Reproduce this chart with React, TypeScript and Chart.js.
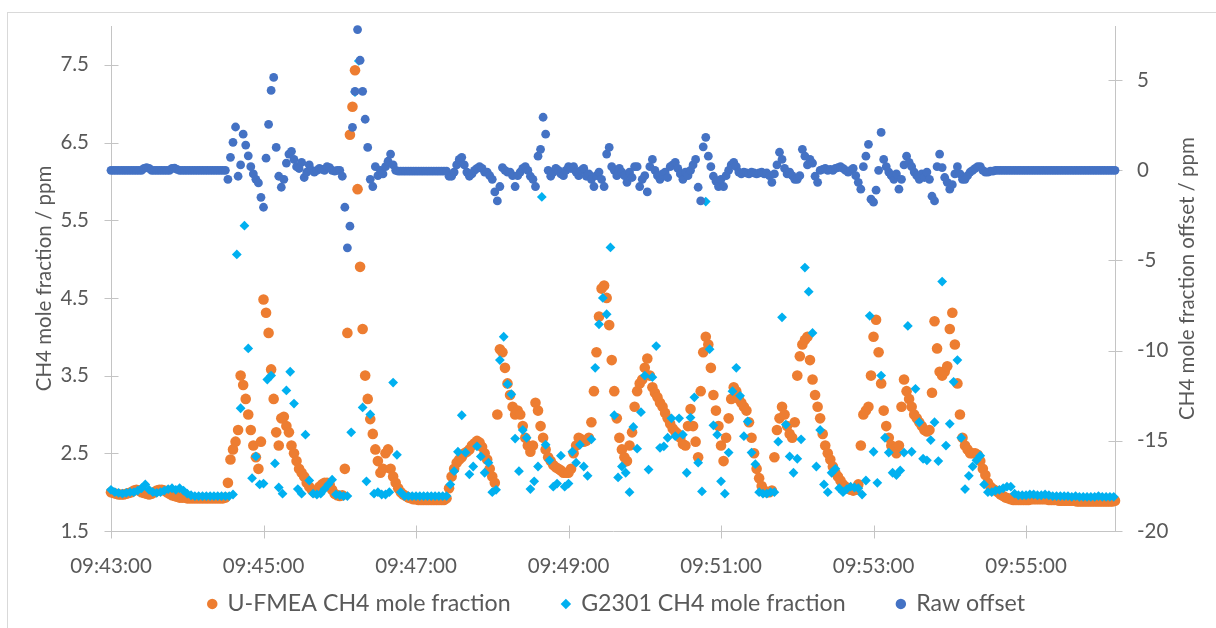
import React, { useEffect, useRef } from "react";
import { Chart, registerables } from "chart.js";

Chart.register(...registerables);

// ---------- data ----------
const startClock = [9, 43, 0];
const ufmeaStepSeconds = 2;
const g2301StepSeconds = 3;
const rawStepSeconds = 2;

const xTickSeconds = [0, 120, 240, 360, 480, 600, 720];
const leftTickValues = [1.5, 2.5, 3.5, 4.5, 5.5, 6.5, 7.5];
const rightTickValues = [-20, -15, -10, -5, 0, 5];

const seriesNames = ["U-FMEA CH4 mole fraction", "G2301 CH4 mole fraction", "Raw offset"];
const leftTitle = "CH4 mole fraction / ppm";
const rightTitle = "CH4 mole fraction offset / ppm";

// U-FMEA CH4 mole fraction (ppm), one value every 2 s from 09:43:00
const ufmeaValues = [
  2.0, 1.99, 1.98, 1.97, 1.97, 1.97, 1.98, 1.99, 2.0, 2.02, 2.03, 2.02, 2.0, 1.99, 1.98, 1.97, 1.98, 2.0, 2.02, 2.03, 2.03, 2.02, 2.0, 1.98, 1.96, 1.95, 1.94, 1.93, 1.93, 1.93,
  1.92, 1.92, 1.92, 1.92, 1.92, 1.92, 1.92, 1.92, 1.92, 1.92, 1.92, 1.92, 1.92, 1.92, 1.92, 1.93, 2.12, 2.42, 2.55, 2.65, 2.8, 3.5, 3.38, 3.2, 3.0, 2.8, 2.6, 2.45, 2.3, 2.65,
  4.48, 4.31, 4.05, 3.58, 3.2, 2.77, 2.6, 2.95, 2.97, 2.85, 2.77, 2.6, 2.5, 2.4, 2.3, 2.25, 2.2, 2.12, 2.07, 2.03, 2.0, 2.02, 2.07, 2.1, 2.12, 2.12, 2.1, 2.03, 1.98, 1.96,
  1.95, 1.96, 2.3, 4.05, 6.6, 6.96, 7.43, 5.9, 4.9, 4.1, 3.5, 3.2, 2.94, 2.75, 2.55, 2.4, 2.25, 2.3, 2.5, 2.55, 2.3, 2.2, 2.12, 2.05, 2.0, 1.97, 1.95, 1.93, 1.92, 1.91,
  1.91, 1.9, 1.9, 1.9, 1.9, 1.9, 1.9, 1.9, 1.9, 1.9, 1.9, 1.9, 1.92, 2.05, 2.2, 2.3, 2.38, 2.42, 2.45, 2.5, 2.52, 2.55, 2.6, 2.63, 2.66, 2.64, 2.58, 2.5, 2.42, 2.3,
  2.2, 2.12, 3.0, 3.84, 3.8, 3.6, 3.4, 3.25, 3.1, 3.0, 3.05, 3.0, 2.85, 2.7, 2.6, 2.52, 2.6, 3.15, 3.05, 2.85, 2.7, 2.55, 2.45, 2.4, 2.35, 2.32, 2.3, 2.28, 2.25, 2.25,
  2.25, 2.3, 2.5, 2.6, 2.7, 2.68, 2.65, 2.66, 2.7, 2.9, 3.3, 3.8, 4.26, 4.62, 4.66, 4.5, 4.15, 3.7, 3.3, 2.95, 2.7, 2.55, 2.45, 2.4, 2.6, 2.77, 3.1, 3.3, 3.4, 3.45,
  3.6, 3.72, 3.5, 3.35, 3.28, 3.22, 3.15, 3.1, 3.02, 2.95, 2.88, 2.82, 2.78, 2.75, 2.7, 2.62, 2.6, 2.85, 3.07, 2.85, 2.65, 2.45, 3.3, 3.8, 4.0, 3.9, 3.6, 3.25, 3.05, 2.85,
  2.6, 2.4, 2.7, 2.95, 3.2, 3.35, 3.3, 3.2, 3.15, 3.1, 3.05, 2.9, 2.7, 2.5, 2.3, 2.18, 2.08, 2.02, 2.0, 2.0, 2.02, 2.45, 2.8, 2.95, 3.1, 3.0, 2.85, 2.75, 2.7, 2.9,
  3.5, 3.75, 3.9, 3.96, 4.0, 3.7, 3.45, 3.25, 3.1, 2.95, 2.75, 2.6, 2.5, 2.42, 2.33, 2.25, 2.2, 2.15, 2.1, 2.07, 2.05, 2.03, 2.02, 2.03, 2.1, 2.6, 3.0, 3.05, 3.1, 3.5,
  4.0, 4.22, 3.8, 3.4, 3.05, 2.85, 2.7, 2.6, 2.55, 2.5, 2.6, 3.1, 3.45, 3.3, 3.2, 3.1, 3.0, 2.95, 2.9, 2.85, 2.8, 2.78, 2.8, 3.28, 4.2, 3.85, 3.55, 3.5, 3.55, 3.62,
  4.1, 4.31, 3.9, 3.4, 3.0, 2.7, 2.6, 2.55, 2.5, 2.5, 2.5, 2.48, 2.4, 2.3, 2.22, 2.12, 2.07, 2.04, 2.02, 2.0, 1.97, 1.95, 1.93, 1.92, 1.91, 1.9, 1.9, 1.9, 1.9, 1.9,
  1.9, 1.9, 1.91, 1.91, 1.91, 1.91, 1.91, 1.91, 1.91, 1.9, 1.9, 1.9, 1.9, 1.89, 1.89, 1.89, 1.89, 1.89, 1.89, 1.89, 1.88, 1.88, 1.88, 1.88, 1.88, 1.88, 1.88, 1.88, 1.88, 1.88,
  1.88, 1.88, 1.88, 1.88, 1.88, 1.89,
];

// G2301 CH4 mole fraction (ppm), one value every 3 s from 09:43:00
const g2301Values = [
  2.03, 2.0, 1.99, 1.98, 1.99, 2.0, 2.0, 2.02, 2.05, 2.1, 2.03, 2.0, 1.99, 2.0, 2.02, 2.04, 2.05, 2.03, 2.05, 2.02, 1.98, 1.96,
  1.95, 1.95, 1.95, 1.95, 1.95, 1.95, 1.95, 1.95, 1.95, 1.95,
  1.97, 5.06, 3.08, 5.43, 3.85, 2.18, 2.46, 2.1, 2.11, 3.45, 3.5, 2.37, 2.06, 1.98, 3.31, 3.55, 3.14, 2.04, 1.98, 2.74, 2.15, 1.98, 1.97, 1.98, 2.04,
  2.1, 2.16, 1.97, 1.96, 1.95, 1.95, 2.77, 7.15, 7.55, 3.09, 2.14, 3.0, 1.98, 2.0, 1.97, 1.97, 2.0, 3.41, 2.48, 2.0,
  1.95, 1.95, 1.95, 1.95, 1.95, 1.95, 1.95, 1.95, 1.95, 1.95, 1.95, 1.95,
  2.1, 2.27, 2.52, 2.99, 2.51, 2.23, 2.33, 2.59, 2.46, 2.25, 2.38, 2.0, 2.03, 3.7, 4.0, 3.39, 3.26, 2.69, 2.27, 2.8,
  2.7, 2.04, 2.14, 2.33, 5.8, 2.61, 2.41, 2.07, 2.11, 2.47, 2.07, 2.11, 2.52, 2.38, 2.61, 2.33, 2.21, 2.68, 3.6,
  4.16, 4.5, 4.29, 5.15, 2.99, 2.19, 2.33, 2.25, 2.0, 2.84, 2.56, 3.03, 3.5, 2.29, 3.48, 3.88, 2.57, 2.59, 2.7, 2.95,
  2.72, 2.95, 2.74, 2.25, 2.96, 3.22, 2.38, 2.01, 5.74, 3.84, 2.86, 2.74, 2.14, 1.98, 2.51, 3.3, 3.6, 3.24, 2.72, 2.91,
  2.51, 2.36, 2.0, 1.98, 1.98, 2.0, 2.0, 2.65, 4.25, 2.87, 2.46, 2.25, 2.43,
  2.68, 4.89, 4.58, 4.05, 2.33, 2.8, 2.1, 2.0, 2.25, 2.3, 2.05, 2.0, 2.04, 2.07, 2.06, 2.05, 1.97, 2.15, 4.27, 2.52,
  2.12, 3.5, 2.7, 2.51, 2.25, 2.22, 2.28, 2.51, 4.14, 2.52, 3.33, 2.9, 2.43, 2.41, 2.67, 2.9, 2.4, 4.71, 2.6, 2.88,
  3.42, 3.7, 2.7, 2.04, 2.21, 2.33, 2.41, 2.47, 2.1, 2.0, 2.0, 2.02, 2.03, 2.05, 2.07, 2.07, 1.98, 1.96, 1.96,
  1.96, 1.97, 1.97, 1.96, 1.96, 1.97, 1.96, 1.95, 1.95, 1.95, 1.95, 1.95, 1.94, 1.95, 1.94, 1.94, 1.94, 1.94, 1.94, 1.95, 1.94, 1.94, 1.94, 1.94,
];

// Raw offset (ppm, secondary axis), one value every 2 s from 09:43:00
const rawOffsetValues = [
  0, 0, 0, 0, 0, 0, 0, 0, 0, 0, 0, 0, 0, 0.1, 0.15, 0.1, 0, 0, 0, 0, 0, 0, 0, 0, 0.1, 0.12, 0.05, 0, 0, 0,
  0, 0, 0, 0, 0, 0, 0, 0, 0, 0, 0, 0, 0, 0, 0, 0, -0.5, 0.72, 1.55, 2.4, -0.33, 0.3, 2.0, 1.4, 0.8, 0.2, -0.2, -0.5, -0.7, -1.5,
  -2.05, 0.67, 2.55, 4.43, 5.15, 1.27, -0.33, -0.94, -0.5, 0.4, 0.9, 1.05, 0.6, 0.2, 0.1, 0.44, -0.4, -0.1, 0.3, 0, -0.1, 0, 0.1, 0.05, 0, 0.2, 0.15, 0, -0.05, 0,
  0, -0.33, -2.05, -4.3, -3.1, 2.38, 4.38, 7.8, 6.1, 4.38, 2.83, 1.27, -0.5, -0.9, 0.2, -0.3, 0, -0.2, 0.2, 0.5, 0.9, 0.3, 0, -0.05, -0.05, -0.05, -0.05, -0.05, -0.05, -0.05,
  -0.05, -0.05, -0.05, -0.05, -0.05, -0.05, -0.05, -0.05, -0.05, -0.05, -0.05, -0.05, -0.05, -0.33, -0.33, -0.1, 0.3, 0.6, 0.72, 0.3, -0.1, -0.33, -0.2, 0, 0.1, 0.2, 0.1, -0.1, -0.1, -0.3,
  -0.5, -1.2, -1.7, -0.9, 0.15, 0, -0.1, -0.1, -0.3, -0.9, -0.3, -0.1, 0.1, 0.2, 0, -0.33, -0.5, -0.9, 0.78, 1.16, 2.94, 2.0, 0, -0.33, -0.1, 0.1, 0, -0.2, -0.3, 0,
  0.2, 0.1, 0.2, -0.1, -0.3, 0, 0.1, -0.33, -0.2, -0.5, -0.9, -0.3, -0.1, -0.5, -0.9, 0.9, 1.27, 0.2, 0, -0.3, 0.1, -0.1, -0.3, -0.67, -0.1, -0.4, 0.2, 0.2, -0.9, -0.5,
  -0.3, -1.2, 0.2, 0.6, 0, -0.3, -0.5, -0.2, -0.1, -0.4, 0.2, 0.3, 0.44, 0.1, -0.2, -0.5, -0.1, -0.3, 0, 0.3, 0.6, -0.94, -1.7, 1.3, 1.83, 0.78, 0.2, -0.33, -0.6, -0.9,
  -0.5, -0.9, -0.3, 0, 0.3, 0.44, 0.2, -0.1, -0.2, -0.1, -0.15, -0.2, -0.1, -0.15, -0.2, -0.15, -0.1, -0.2, -0.15, -0.3, -0.67, -0.2, 0.3, 1.0, 0.6, 0.1, -0.2, -0.1, -0.3, -0.5,
  -0.5, -0.3, 1.16, 0.78, 0.3, 0.6, 0.4, -0.33, -0.67, 0, 0.05, 0.1, 0, 0.05, 0, 0.1, 0.15, 0.2, 0.1, 0, -0.1, 0, 0.1, -0.3, -0.67, -1.05, 0.2, 0.78, 1.44, -1.6,
  -1.77, -1.1, 0, 2.1, 0.6, 0.2, -0.1, -0.3, -0.5, -0.2, -1.05, -0.5, 0.3, 0.78, 0.44, 0.2, -0.1, -0.3, -0.5, -0.2, -0.4, -0.1, -0.5, -1.44, -1.7, 0.2, 0.9, 0.15, -0.4, -0.67,
  -1.05, -0.8, -0.2, 0.2, -0.2, -0.5, -0.5, -0.3, -0.1, 0, 0.1, 0.2, 0.2, 0, -0.1, -0.1, -0.05, -0.05, 0, 0, 0, 0, 0, 0, 0, 0, 0, 0, 0, 0,
  0, 0, 0, 0, 0, 0, 0, 0, 0, 0, 0, 0, 0, 0, 0, 0, 0, 0, 0, 0, 0, 0, 0, 0, 0, 0, 0, 0, 0, 0,
  0, 0, 0, 0, 0, 0,
];

// ---------- style ----------
const FONT = "Lato";
const FONT_SIZE = 20.5;
const LEGEND_FONT_SIZE = 23.2;
const TEXT = "#595959";
const AXIS = "#c4c4c4";
const ORANGE = "#ED7D31";
const CYAN = "#00B0F0";
const BLUE = "#4472C4";

function clock(sec: number): string {
  const total = startClock[0] * 3600 + startClock[1] * 60 + startClock[2] + sec;
  const h = Math.floor(total / 3600);
  const m = Math.floor((total % 3600) / 60);
  const s = total % 60;
  return [h, m, s].map((n) => String(n).padStart(2, "0")).join(":");
}

const excelFrame = {
  id: "excelFrame",
  beforeDraw(chart: any) {
    const ctx = chart.ctx;
    ctx.save();
    ctx.strokeStyle = "#d9d9d9";
    ctx.lineWidth = 1;
    ctx.strokeRect(7.5, 12.5, 1400, 800);
    ctx.restore();
  },
  beforeDatasetsDraw(chart: any) {
    const { ctx, chartArea: a, scales } = chart;
    const px = (v: number) => Math.round(v) + 0.5;
    const L = px(a.left);
    const R = px(a.right);
    const B = px(a.bottom);
    const T = Math.round(a.top);
    ctx.save();
    ctx.strokeStyle = AXIS;
    ctx.lineWidth = 1;
    ctx.beginPath();
    ctx.moveTo(L, T);
    ctx.lineTo(L, B);
    ctx.moveTo(R, T);
    ctx.lineTo(R, B);
    ctx.moveTo(L, B);
    ctx.lineTo(R, B);
    for (const v of leftTickValues) {
      const y = px(scales.y.getPixelForValue(v));
      ctx.moveTo(L - 7, y);
      ctx.lineTo(L + 7, y);
    }
    for (const v of rightTickValues) {
      const y = px(scales.y2.getPixelForValue(v));
      ctx.moveTo(R - 7, y);
      ctx.lineTo(R + 7, y);
    }
    for (const v of xTickSeconds) {
      const x = px(scales.x.getPixelForValue(v));
      ctx.moveTo(x, B - 6);
      ctx.lineTo(x, B + 7);
    }
    ctx.stroke();

    ctx.fillStyle = TEXT;
    ctx.font = `${FONT_SIZE}px ${FONT}`;
    ctx.textAlign = "center";
    ctx.textBaseline = "middle";
    const cy = (a.top + a.bottom) / 2;
    ctx.save();
    ctx.translate(44, cy);
    ctx.rotate(-Math.PI / 2);
    ctx.fillText(leftTitle, 0, 0);
    ctx.restore();
    ctx.save();
    ctx.translate(1187, cy);
    ctx.rotate(-Math.PI / 2);
    ctx.fillText(rightTitle, 0, 0);
    ctx.restore();
    ctx.restore();
  },
};

export default function App() {
  const canvasRef = useRef<HTMLCanvasElement | null>(null);

  useEffect(() => {
    if (!canvasRef.current) return;
    Chart.defaults.font.family = FONT;
    Chart.defaults.color = TEXT;

    const tickFont = { family: FONT, size: FONT_SIZE };

    const chart = new Chart(canvasRef.current, {
      type: "scatter",
      data: {
        datasets: [
          {
            label: seriesNames[0],
            data: ufmeaValues.map((v, i) => ({ x: i * ufmeaStepSeconds, y: v })),
            yAxisID: "y",
            pointStyle: "circle",
            pointRadius: 5.3,
            pointHoverRadius: 5.3,
            backgroundColor: ORANGE,
            borderColor: ORANGE,
            pointBackgroundColor: ORANGE,
            pointBorderWidth: 0,
            borderWidth: 0,
            order: 3,
            clip: false,
          },
          {
            label: seriesNames[1],
            data: g2301Values.map((v, i) => ({ x: i * g2301StepSeconds, y: v })),
            yAxisID: "y",
            pointStyle: "rectRot",
            pointRadius: 4.9,
            pointHoverRadius: 4.9,
            backgroundColor: CYAN,
            borderColor: CYAN,
            pointBackgroundColor: CYAN,
            pointBorderWidth: 0,
            borderWidth: 0,
            order: 2,
            clip: false,
          },
          {
            label: seriesNames[2],
            data: rawOffsetValues.map((v, i) => ({ x: i * rawStepSeconds, y: v })),
            yAxisID: "y2",
            pointStyle: "circle",
            pointRadius: 4.4,
            pointHoverRadius: 4.4,
            backgroundColor: BLUE,
            borderColor: BLUE,
            pointBackgroundColor: BLUE,
            pointBorderWidth: 0,
            borderWidth: 0,
            order: 1,
            clip: false,
          },
        ],
      },
      options: {
        animation: false,
        responsive: false,
        devicePixelRatio: 1,
        events: [],
        layout: { padding: { top: 26, left: 17.5, right: 0, bottom: 2.5 } },
        plugins: {
          tooltip: { enabled: false },
          legend: {
            position: "bottom",
            labels: {
              usePointStyle: true,
              boxWidth: 7.4,
              boxHeight: 7.4,
              padding: 51.5,
              color: TEXT,
              font: { family: FONT, size: LEGEND_FONT_SIZE },
              sort: (a: any, b: any) => a.datasetIndex - b.datasetIndex,
            },
          },
        },
        scales: {
          x: {
            type: "linear",
            min: 0,
            max: 790,
            afterBuildTicks: (s: any) => {
              s.ticks = xTickSeconds.map((v) => ({ value: v }));
            },
            afterFit: (s: any) => {
              s.height = 9.8;
              // thin axis box so the legend sits where it does in the reference;
              // the tick labels are drawn below it instead of being clipped to it
              s._computeLabelArea = () => undefined;
            },
            ticks: {
              callback: (v: any) => clock(Number(v)),
              color: TEXT,
              font: tickFont,
              padding: 23,
              maxRotation: 0,
              autoSkip: false,
            },
            grid: { display: false, drawTicks: false },
            border: { display: false },
          },
          y: {
            type: "linear",
            position: "left",
            min: 1.5,
            max: 8,
            afterBuildTicks: (s: any) => {
              s.ticks = leftTickValues.map((v) => ({ value: v }));
            },
            afterFit: (s: any) => {
              s.width = 93.5;
              s.paddingTop = 0;
              s.paddingBottom = 0;
            },
            ticks: {
              callback: (v: any) => Number(v).toFixed(1),
              color: TEXT,
              font: tickFont,
              padding: 22,
            },
            grid: { display: false, drawTicks: false },
            border: { display: false },
          },
          y2: {
            type: "linear",
            position: "right",
            min: -20,
            max: 8,
            afterBuildTicks: (s: any) => {
              s.ticks = rightTickValues.map((v) => ({ value: v }));
            },
            afterFit: (s: any) => {
              s.width = 101;
              s.paddingTop = 0;
              s.paddingBottom = 0;
            },
            ticks: {
              callback: (v: any) => String(v),
              color: TEXT,
              font: tickFont,
              padding: 22,
            },
            grid: { display: false, drawTicks: false },
            border: { display: false },
          },
        },
      } as any,
      plugins: [excelFrame],
    });

    return () => chart.destroy();
  }, []);

  return (
    <div
      style={{
        position: "fixed",
        left: 0,
        top: 0,
        width: 1216,
        height: 628,
        background: "#ffffff",
        overflow: "hidden",
      }}
    >
      <canvas ref={canvasRef} width={1216} height={628} style={{ display: "block" }} />
    </div>
  );
}
